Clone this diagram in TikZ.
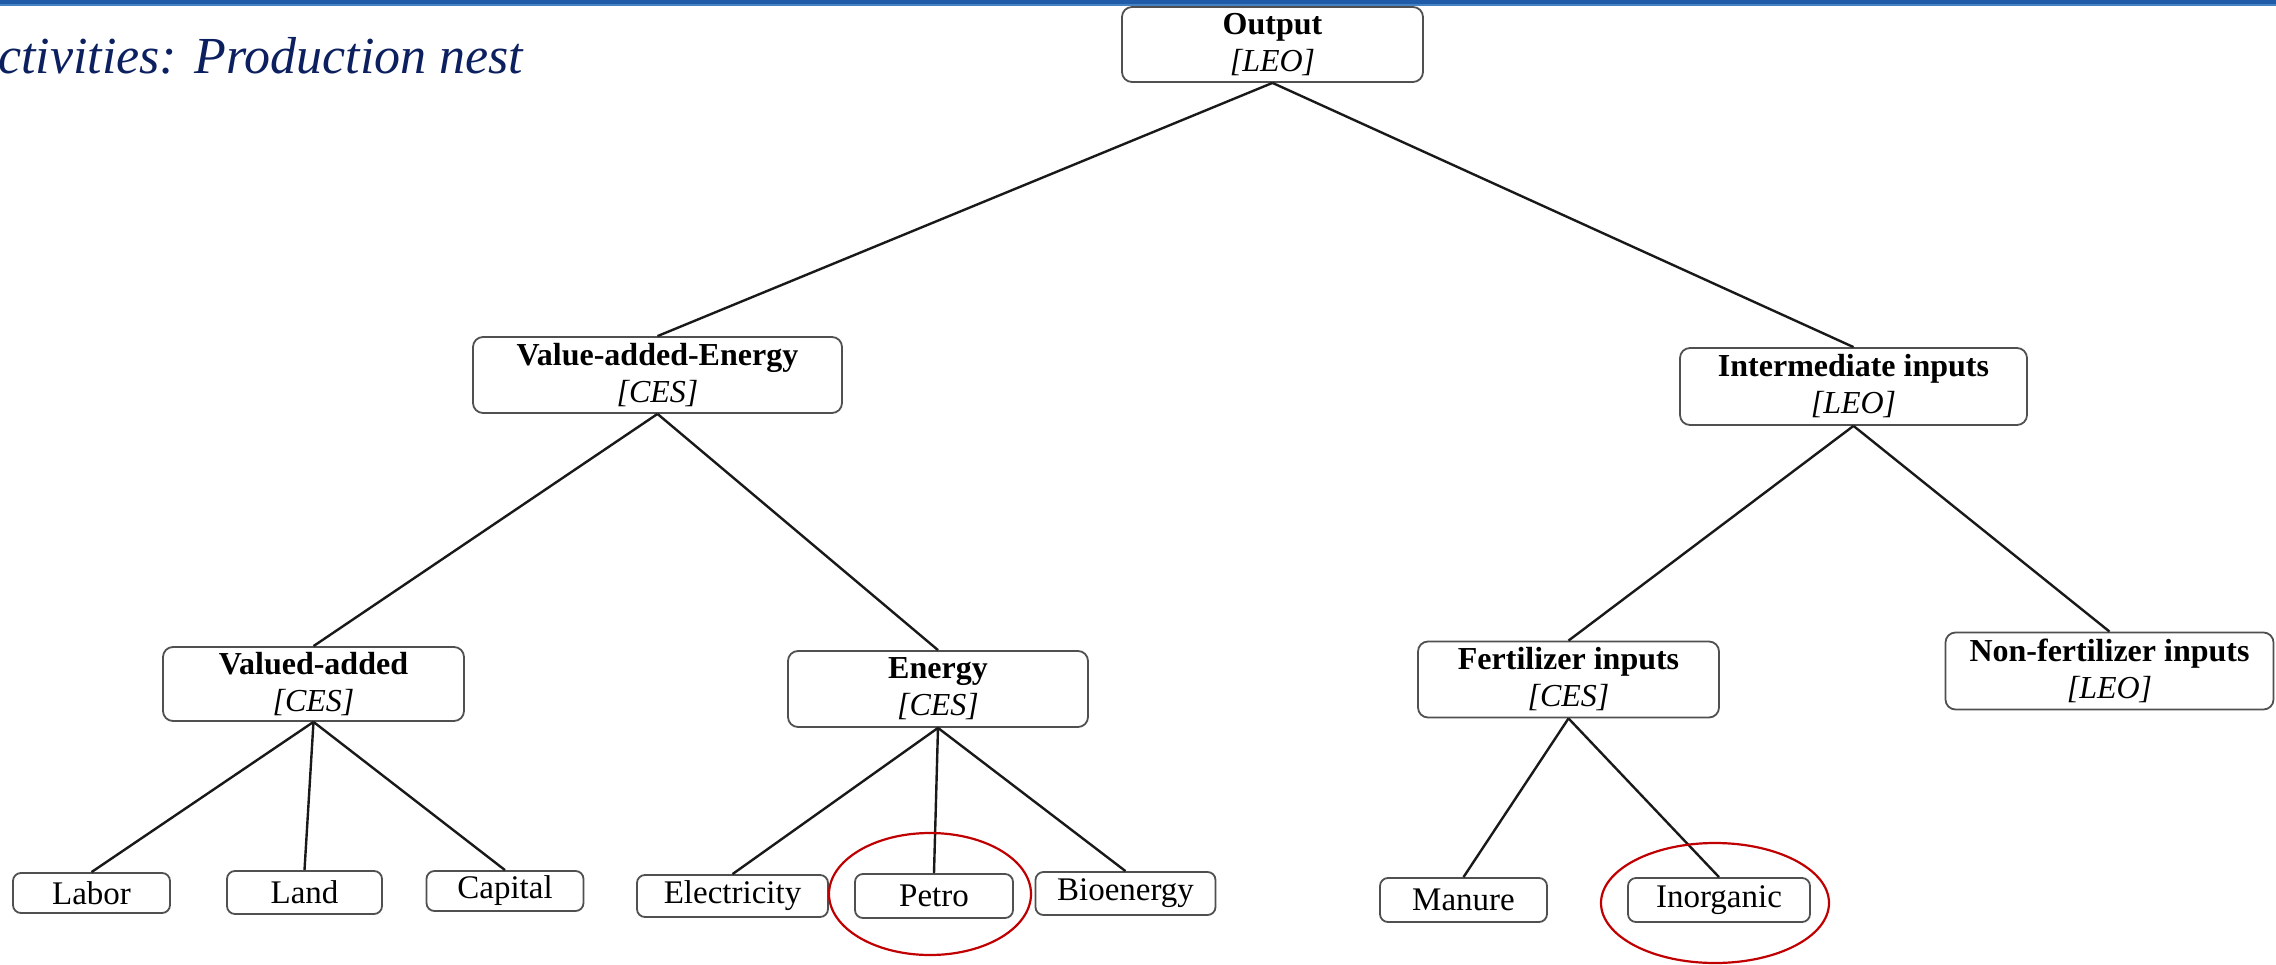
\documentclass[tikz,border=0pt]{standalone}
\usepackage{fontspec}
\setmainfont{Liberation Serif}
\definecolor{barblue}{RGB}{31,91,166}
\definecolor{barlight}{RGB}{70,130,195}
\definecolor{navytitle}{RGB}{12,32,96}
\definecolor{ringred}{RGB}{192,0,0}
\definecolor{boxline}{RGB}{80,80,80}
\begin{document}
\begin{tikzpicture}[x=1pt,y=-1pt,
  box/.style={draw=boxline, line width=1.8pt, rounded corners=10pt, align=center, inner sep=0pt, font=\fontsize{32}{37}\selectfont},
  leaf/.style={draw=boxline, line width=1.8pt, rounded corners=8pt, inner sep=0pt, font=\fontsize{33}{36}\selectfont},
  conn/.style={line width=2.4pt, black!90},
  ring/.style={draw=ringred, line width=2.2pt}
]
\useasboundingbox (0,0) rectangle (2276,964);
\fill[barblue] (0,0) rectangle (2276,4);
\fill[barlight] (0,4) rectangle (2276,6);
\node[anchor=base west, inner sep=0pt, text=navytitle, font=\fontsize{52}{58}\selectfont\itshape] (title) at (-2,73) {ctivities: Production nest};

% upper boxes
\node[box, minimum width=301pt, minimum height=75pt] (out) at (1272.5,44.5) {\textbf{Output}\\\textit{[LEO]}};
\node[box, minimum width=369pt, minimum height=76pt] (vae) at (657.5,375) {\textbf{Value-added-Energy}\\\textit{[CES]}};
\node[box, minimum width=347pt, minimum height=77pt] (int) at (1853.5,386.5) {\textbf{Intermediate inputs}\\\textit{[LEO]}};
\node[box, minimum width=301pt, minimum height=74pt] (va) at (313.5,684) {\textbf{Valued-added}\\\textit{[CES]}};
\node[box, minimum width=300pt, minimum height=76pt] (en) at (938,689) {\textbf{Energy}\\\textit{[CES]}};
\node[box, minimum width=301pt, minimum height=76pt] (fer) at (1568.5,679.5) {\textbf{Fertilizer inputs}\\\textit{[CES]}};
\node[box, minimum width=328pt, minimum height=77pt] (nfer) at (2109.5,671) {\textbf{Non-fertilizer inputs}\\\textit{[LEO]}};

% leaves
\node[leaf, minimum width=157pt, minimum height=40pt] (labor) at (91.5,893) {Labor};
\node[leaf, minimum width=155pt, minimum height=43pt] (land) at (304.5,892.5) {Land};
\node[leaf, minimum width=157pt, minimum height=40pt] (cap) at (505,891) {Capital};
\node[leaf, minimum width=191pt, minimum height=42pt] (elec) at (732.5,896) {Electricity};
\node[leaf, minimum width=158pt, minimum height=44pt] (petro) at (934,896) {Petro};
\node[leaf, minimum width=180pt, minimum height=43pt] (bio) at (1125.5,893.5) {Bioenergy};
\node[leaf, minimum width=167pt, minimum height=44pt] (man) at (1463.5,900) {Manure};
\node[leaf, minimum width=182pt, minimum height=44pt] (inorg) at (1719,900) {Inorganic};

% connectors
\draw[conn] (out.south) -- (vae.north);
\draw[conn] (out.south) -- (int.north);
\draw[conn] (vae.south) -- (va.north);
\draw[conn] (vae.south) -- (en.north);
\draw[conn] (int.south) -- (fer.north);
\draw[conn] (int.south) -- (nfer.north);
\draw[conn] (va.south) -- (labor.north);
\draw[conn] (va.south) -- (land.north);
\draw[conn] (va.south) -- (cap.north);
\draw[conn] (en.south) -- (elec.north);
\draw[conn] (en.south) -- (petro.north);
\draw[conn] (en.south) -- (bio.north);
\draw[conn] (fer.south) -- (man.north);
\draw[conn] (fer.south) -- (inorg.north);

% highlight rings
\draw[ring] (930,894) ellipse [x radius=101, y radius=61];
\draw[ring] (1715,903) ellipse [x radius=114, y radius=60];
\end{tikzpicture}
\end{document}
